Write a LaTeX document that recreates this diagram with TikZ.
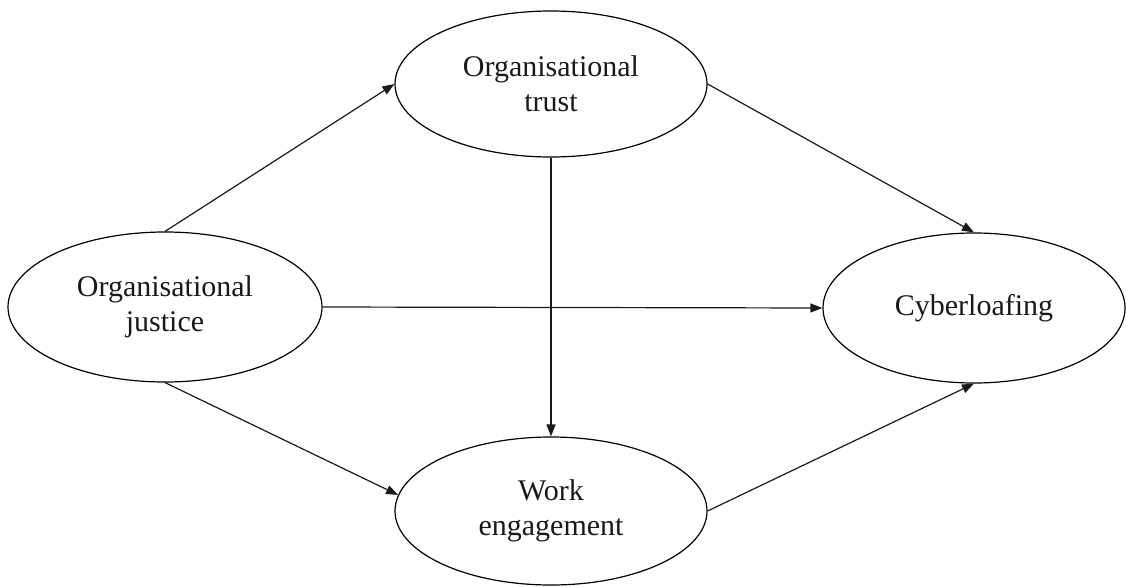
\documentclass[tikz,border=0pt]{standalone}
\usepackage{fontspec}
\setmainfont{Liberation Serif}
\usetikzlibrary{arrows.meta,shapes.geometric}
\begin{document}
\begin{tikzpicture}[x=1pt,y=-1pt,
  construct/.style={draw=black, line width=1.2pt, ellipse, inner sep=0pt,
    align=center, font=\fontsize{30}{35}\selectfont, text=black!90},
  link/.style={draw=black!90, line width=1.2pt, -{Triangle[length=12pt,width=9pt]}}]
\useasboundingbox (0,0) rectangle (1126,586);
\node[construct, minimum width=312pt, minimum height=146pt] (trust) at (551,84) {Organisational\\trust};
\node[construct, minimum width=314pt, minimum height=150pt] (justice) at (165,307) {Organisational\\justice};
\node[construct, minimum width=302pt, minimum height=150pt] (cyber) at (974,308) {Cyberloafing};
\node[construct, minimum width=312pt, minimum height=148pt] (work) at (551,511) {Work\\engagement};
\draw[link] (justice.north) -- (trust.west);
\draw[link] (trust.east) -- (cyber.north);
\draw[link] (justice.east) -- (cyber.west);
\draw[link] (trust.south) -- (work.north);
\draw[link] (justice.south) -- (work.174);
\draw[link] (work.east) -- (cyber.south);
\end{tikzpicture}
\end{document}
